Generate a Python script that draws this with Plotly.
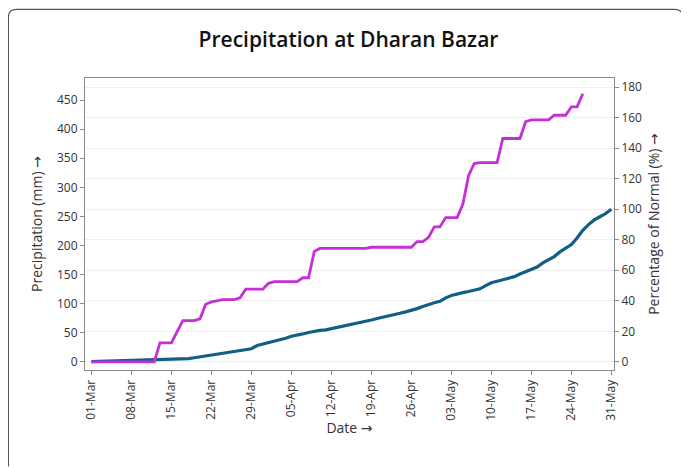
import pandas as pd
import plotly.graph_objects as go

# ---- data ----
dates = pd.date_range("2024-03-01", "2024-05-31", freq="D")

# cumulative normal precipitation (mm), Mar 1 .. May 31
normal_mm = [
    0.5, 0.8, 1.0, 1.3, 1.6, 2.0, 2.2, 2.5, 2.7, 2.9,
    3.1, 3.4, 3.7, 3.9, 4.1, 4.3, 4.6, 5.5, 7.0, 8.5,
    10.0, 11.2, 12.5, 14.0, 15.2, 16.8, 18.5, 20.5, 22.5, 28.0,
    30.5, 33.0, 35.5, 37.5, 40.5, 44.0, 45.5, 48.0, 50.5, 52.5,
    54.0, 55.0, 57.0, 59.5, 61.5, 63.5, 65.0, 66.8, 69.0, 72.0,
    74.5, 76.5, 79.0, 81.0, 83.5, 86.0, 88.5, 91.5, 95.0, 98.8,
    101.5, 104.0, 110.0, 114.0, 117.0, 119.0, 121.0, 123.0, 125.5, 131.0,
    136.0, 138.5, 141.0, 143.0, 146.5, 151.0, 155.0, 159.5, 163.0, 170.0,
    176.0, 181.0, 189.0, 195.0, 201.5, 213.0, 226.0, 236.0, 244.0, 249.5,
    255.0, 262.5,
]

# cumulative actual precipitation (mm), Mar 1 .. May 26
actual_mm = [
    0, 0, 0, 0, 0, 0, 0, 0, 0, 0,
    0, 0, 32.5, 32.5, 32.5, 52, 71, 71, 71, 74,
    99, 103, 105, 107, 107, 107, 110, 125, 125, 125,
    125, 135, 138, 138, 138, 138, 138, 144.6, 144.6, 190,
    195, 195, 195, 195, 195, 195, 195, 195, 195, 197,
    197, 197, 197, 197, 197, 197, 197, 206.7, 206.7, 214,
    232, 232, 248, 248, 248, 271, 320, 341, 342.6, 342.6,
    342.6, 342.6, 384, 384, 384, 384, 413, 416, 416, 416,
    416, 424, 424, 424, 438.5, 438.5, 461,
]

left_range = [-14, 488]
normal_total = normal_mm[-1]
right_range = [v / normal_total * 100 for v in left_range]
pct_ticks = list(range(0, 181, 20))
mm_ticks = list(range(0, 451, 50))

ARROW = '<span style="font-family:DejaVu Sans">\u2192</span>'

fig = go.Figure()
fig.add_trace(go.Scatter(
    x=dates[:len(normal_mm)], y=normal_mm, mode="lines",
    line=dict(color="#125f86", width=3.2), name="Normal", showlegend=False,
))
fig.add_trace(go.Scatter(
    x=dates[:len(actual_mm)], y=actual_mm, mode="lines",
    line=dict(color="#c42fd6", width=2.8), name="Actual", showlegend=False,
))
# percentage axis companion (invisible)
fig.add_trace(go.Scatter(
    x=dates[:len(normal_mm)], y=[v / normal_total * 100 for v in normal_mm],
    yaxis="y2", mode="lines", line=dict(color="rgba(0,0,0,0)", width=0),
    hoverinfo="skip", showlegend=False,
))

W, H = 681, 459
ML, MR, MT, MB = 77.3, 74.7, 69.5, 96.7
axis_line = "#8a8a8a"
txt = "#333333"
fig.update_layout(
    width=W, height=H,
    margin=dict(l=ML, r=MR, t=MT, b=MB),
    paper_bgcolor="white", plot_bgcolor="white",
    font=dict(family="Open Sans", color=txt, size=12),
    title=dict(text="Precipitation at Dharan Bazar", x=0.5, xanchor="center",
               y=1 - 32 / H, yanchor="middle",
               font=dict(size=21, color="#111", weight=600)),
    showlegend=False,
    xaxis=dict(
        type="date",
        range=["2024-02-28 21:00", "2024-05-31 11:00"],
        tick0="2024-03-01", dtick=7 * 24 * 3600 * 1000,
        tickformat="%d-%b", tickangle=-90,
        showgrid=False, zeroline=False,
        showline=True, linecolor=axis_line, linewidth=1, mirror=True,
        ticks="outside", ticklen=4, tickcolor=axis_line,
        tickfont=dict(color=txt),
        title=dict(text="Date " + ARROW, font=dict(size=14, color=txt), standoff=3),
    ),
    yaxis=dict(
        range=left_range, tickvals=mm_ticks,
        showgrid=False, zeroline=False,
        showline=True, linecolor=axis_line, linewidth=1, mirror=True,
        ticks="outside", ticklen=4, tickcolor=axis_line,
        tickfont=dict(color=txt),
        title=dict(text="Precipitation (mm) " + ARROW, font=dict(size=14, color=txt), standoff=11),
    ),
    yaxis2=dict(
        overlaying="y", side="right",
        range=right_range, tickvals=pct_ticks,
        showgrid=True, gridcolor="#eeeeee", zeroline=False,
        showline=False,
        ticks="outside", ticklen=4, tickcolor=axis_line,
        tickfont=dict(color=txt),
        title=dict(text="Percentage of Normal (%) " + ARROW, font=dict(size=14, color=txt), standoff=8),
    ),
)

# card outline around the chart (paper coordinates)
pw, ph = W - ML - MR, H - MT - MB
def px(x):
    return (x - ML) / pw
def py(y):
    return (H - MB - y) / ph
r = 8
x0, x1, y0, y1 = 0.7, 675, 0.7, H
path = (f"M {px(x0)},{py(y1)} L {px(x0)},{py(y0 + r)} "
        f"Q {px(x0)},{py(y0)} {px(x0 + r)},{py(y0)} "
        f"L {px(x1 - r)},{py(y0)} Q {px(x1)},{py(y0)} {px(x1)},{py(y0 + r)} "
        f"L {px(x1)},{py(y1)}")
fig.add_shape(type="path", path=path, xref="paper", yref="paper",
              line=dict(color="#555", width=1.2), layer="above")

fig.write_html("out.html")
